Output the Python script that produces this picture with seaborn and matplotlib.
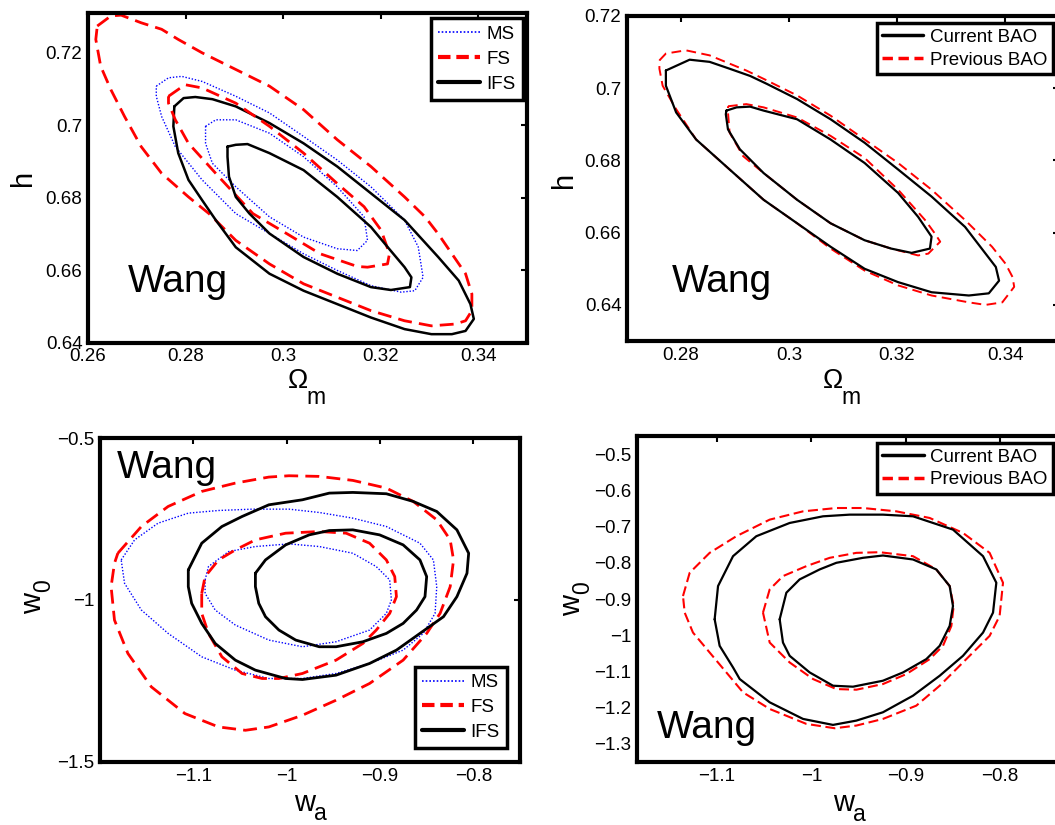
import matplotlib
matplotlib.use("Agg")
import matplotlib.pyplot as plt
from matplotlib.lines import Line2D
import pandas as pd
import seaborn as sns

# ---------------- data ----------------
# Panel A (top-left): Omega_m vs h, MS / FS / IFS contours
A_FS_OUT_X = [0.2619, 0.2647, 0.2668, 0.2709, 0.2751, 0.2785, 0.2834, 0.2903, 0.2972, 0.3042, 0.3111, 0.3180,
              0.3249, 0.3291, 0.3318, 0.3346, 0.3374, 0.3387, 0.3387, 0.3374, 0.3353, 0.3304, 0.3249, 0.3180,
              0.3111, 0.3042, 0.2972, 0.2903, 0.2848, 0.2806, 0.2751, 0.2709, 0.2675, 0.2647, 0.2626, 0.2616]
A_FS_OUT_Y = [0.7274, 0.7302, 0.7304, 0.7283, 0.7265, 0.7237, 0.7200, 0.7154, 0.7108, 0.7043, 0.6960, 0.6886,
              0.6802, 0.6747, 0.6700, 0.6645, 0.6590, 0.6534, 0.6488, 0.6460, 0.6451, 0.6446, 0.6460, 0.6488,
              0.6525, 0.6562, 0.6617, 0.6682, 0.6756, 0.6802, 0.6867, 0.6941, 0.7024, 0.7098, 0.7163, 0.7237]
A_FS_IN_X = [0.2765, 0.2799, 0.2834, 0.2903, 0.2972, 0.3042, 0.3111, 0.3166, 0.3201, 0.3218, 0.3214, 0.3173,
             0.3152, 0.3076, 0.3007, 0.2938, 0.2868, 0.2806, 0.2779, 0.2765]
A_FS_IN_Y = [0.7080, 0.7112, 0.7103, 0.7061, 0.6997, 0.6923, 0.6839, 0.6775, 0.6710, 0.6645, 0.6617, 0.6608,
             0.6610, 0.6645, 0.6701, 0.6756, 0.6858, 0.6950, 0.7015, 0.7061]
A_MS_OUT_X = [0.2740, 0.2765, 0.2792, 0.2834, 0.2903, 0.2972, 0.3042, 0.3111, 0.3180, 0.3249, 0.3277, 0.3287,
              0.3270, 0.3242, 0.3180, 0.3111, 0.3042, 0.2972, 0.2903, 0.2834, 0.2779, 0.2751, 0.2740]
A_MS_OUT_Y = [0.7108, 0.7131, 0.7135, 0.7121, 0.7080, 0.7034, 0.6969, 0.6904, 0.6830, 0.6738, 0.6664, 0.6580,
              0.6543, 0.6539, 0.6557, 0.6599, 0.6645, 0.6701, 0.6756, 0.6849, 0.6941, 0.7024, 0.7080]
A_MS_IN_X = [0.2841, 0.2862, 0.2903, 0.2972, 0.3042, 0.3111, 0.3166, 0.3173, 0.3152, 0.3111, 0.3042, 0.2972,
             0.2903, 0.2855, 0.2841]
A_MS_IN_Y = [0.6997, 0.7015, 0.7015, 0.6978, 0.6913, 0.6830, 0.6747, 0.6682, 0.6654, 0.6659, 0.6691, 0.6747,
             0.6830, 0.6895, 0.6950]
A_IFS_OUT_X = [0.2777, 0.2796, 0.2820, 0.2855, 0.2903, 0.2972, 0.3042, 0.3111, 0.3180, 0.3249, 0.3318, 0.3360,
               0.3384, 0.3391, 0.3374, 0.3346, 0.3304, 0.3249, 0.3180, 0.3111, 0.3042, 0.2972, 0.2903, 0.2862,
               0.2834, 0.2806, 0.2785, 0.2775]
A_IFS_OUT_Y = [0.7052, 0.7075, 0.7078, 0.7072, 0.7052, 0.7006, 0.6950, 0.6886, 0.6812, 0.6738, 0.6636, 0.6571,
               0.6506, 0.6465, 0.6432, 0.6423, 0.6423, 0.6437, 0.6469, 0.6506, 0.6543, 0.6590, 0.6663, 0.6738,
               0.6793, 0.6849, 0.6923, 0.6997]
A_IFS_IN_X = [0.2886, 0.2903, 0.2927, 0.2972, 0.3042, 0.3111, 0.3180, 0.3214, 0.3249, 0.3263, 0.3260, 0.3221,
              0.3180, 0.3111, 0.3042, 0.2972, 0.2931, 0.2903, 0.2889, 0.2886]
A_IFS_IN_Y = [0.6941, 0.6946, 0.6948, 0.6923, 0.6876, 0.6802, 0.6719, 0.6664, 0.6608, 0.6580, 0.6553, 0.6545,
              0.6553, 0.6590, 0.6636, 0.6701, 0.6756, 0.6802, 0.6858, 0.6913]

# Panel B (top-right): Omega_m vs h, current vs previous BAO
B_CUR_OUT_X = [0.2772, 0.2816, 0.2853, 0.2890, 0.2928, 0.2959, 0.3015, 0.3077, 0.3140, 0.3202, 0.3264, 0.3326,
               0.3364, 0.3383, 0.3389, 0.3370, 0.3333, 0.3264, 0.3202, 0.3140, 0.3077, 0.3015, 0.2953, 0.2890,
               0.2828, 0.2791, 0.2772]
B_CUR_OUT_Y = [0.7049, 0.7079, 0.7073, 0.7054, 0.7034, 0.7012, 0.6970, 0.6914, 0.6849, 0.6775, 0.6700, 0.6616,
               0.6542, 0.6505, 0.6467, 0.6432, 0.6426, 0.6435, 0.6463, 0.6500, 0.6561, 0.6626, 0.6691, 0.6775,
               0.6858, 0.6933, 0.7007]
B_PRE_OUT_X = [0.2760, 0.2772, 0.2809, 0.2853, 0.2921, 0.2953, 0.3015, 0.3077, 0.3140, 0.3202, 0.3264, 0.3326,
               0.3376, 0.3401, 0.3414, 0.3417, 0.3395, 0.3364, 0.3333, 0.3264, 0.3202, 0.3140, 0.3077, 0.3015,
               0.2953, 0.2890, 0.2828, 0.2791, 0.2766, 0.2760]
B_PRE_OUT_Y = [0.7077, 0.7096, 0.7105, 0.7091, 0.7049, 0.7026, 0.6980, 0.6924, 0.6858, 0.6793, 0.6719, 0.6635,
               0.6561, 0.6514, 0.6477, 0.6450, 0.6407, 0.6400, 0.6407, 0.6426, 0.6454, 0.6495, 0.6556, 0.6626,
               0.6691, 0.6775, 0.6858, 0.6942, 0.7007, 0.7054]
B_CUR_IN_X = [0.2884, 0.2903, 0.2928, 0.2953, 0.3015, 0.3077, 0.3140, 0.3202, 0.3239, 0.3264, 0.3261, 0.3227,
              0.3189, 0.3140, 0.3077, 0.3015, 0.2953, 0.2909, 0.2887, 0.2883]
B_CUR_IN_Y = [0.6938, 0.6947, 0.6949, 0.6938, 0.6914, 0.6858, 0.6793, 0.6710, 0.6644, 0.6589, 0.6556, 0.6544,
              0.6556, 0.6579, 0.6626, 0.6691, 0.6765, 0.6831, 0.6886, 0.6928]
B_PRE_IN_X = [0.2887, 0.2921, 0.2953, 0.3015, 0.3077, 0.3140, 0.3202, 0.3252, 0.3270, 0.3280, 0.3258, 0.3239,
              0.3189, 0.3140, 0.3077, 0.3015, 0.2953, 0.2915, 0.2890, 0.2887]
B_PRE_IN_Y = [0.6950, 0.6956, 0.6947, 0.6919, 0.6868, 0.6807, 0.6719, 0.6635, 0.6598, 0.6575, 0.6542, 0.6537,
              0.6556, 0.6579, 0.6626, 0.6691, 0.6765, 0.6812, 0.6877, 0.6933]

# Panel C (bottom-left): w_a vs w_0, MS / FS / IFS contours
C_FS_OUT_X = [-1.1809, -1.1557, -1.1270, -1.0910, -1.0550, -1.0191, -0.9975, -0.9651, -0.9291, -0.8932, -0.8644,
              -0.8392, -0.8248, -0.8212, -0.8248, -0.8356, -0.8500, -0.8752, -0.9112, -0.9471, -0.9831, -1.0191,
              -1.0442, -1.0730, -1.1090, -1.1450, -1.1701, -1.1845, -1.1881, -1.1845]
C_FS_OUT_Y = [-0.8557, -0.7732, -0.7113, -0.6649, -0.6392, -0.6206, -0.6165, -0.6185, -0.6309, -0.6546, -0.6958,
              -0.7526, -0.8144, -0.8763, -0.9588, -1.0412, -1.1031, -1.1856, -1.2577, -1.3093, -1.3557, -1.3918,
              -1.4021, -1.3918, -1.3505, -1.2681, -1.1650, -1.0619, -0.9588, -0.8866]
C_FS_IN_X = [-1.0910, -1.0874, -1.0730, -1.0550, -1.0335, -1.0011, -0.9651, -0.9363, -0.9112, -0.8932, -0.8842,
             -0.8824, -0.8896, -0.9040, -0.9183, -0.9471, -0.9831, -1.0083, -1.0263, -1.0478, -1.0694, -1.0838,
             -1.0910]
C_FS_IN_Y = [-0.9794, -0.9278, -0.8763, -0.8454, -0.8144, -0.7938, -0.7886, -0.7938, -0.8247, -0.8763, -0.9278,
             -0.9897, -1.0412, -1.0928, -1.1340, -1.1856, -1.2268, -1.2423, -1.2423, -1.2268, -1.1753, -1.1031,
             -1.0412]
C_MS_OUT_X = [-1.1773, -1.1629, -1.1378, -1.1054, -1.0730, -1.0370, -0.9975, -0.9651, -0.9291, -0.8932, -0.8572,
              -0.8428, -0.8392, -0.8410, -0.8536, -0.8752, -0.9112, -0.9471, -0.9831, -1.0191, -1.0550, -1.0910,
              -1.1270, -1.1557, -1.1737]
C_MS_OUT_Y = [-0.8763, -0.8144, -0.7629, -0.7319, -0.7237, -0.7196, -0.7196, -0.7299, -0.7474, -0.7732, -0.8247,
              -0.8763, -0.9588, -1.0412, -1.1031, -1.1547, -1.1959, -1.2268, -1.2423, -1.2423, -1.2165, -1.1753,
              -1.1031, -1.0309, -0.9485]
C_MS_IN_X = [-1.0874, -1.0838, -1.0622, -1.0335, -0.9975, -0.9651, -0.9291, -0.9040, -0.8896, -0.8878, -0.8932,
             -0.9112, -0.9471, -0.9831, -1.0191, -1.0550, -1.0766, -1.0874]
C_MS_IN_Y = [-0.9381, -0.8969, -0.8505, -0.8350, -0.8268, -0.8350, -0.8557, -0.8969, -0.9381, -1.0000, -1.0412,
             -1.0928, -1.1289, -1.1443, -1.1237, -1.0773, -1.0309, -0.9794]
C_IFS_OUT_X = [-1.1054, -1.0910, -1.0694, -1.0478, -1.0191, -0.9831, -0.9543, -0.9291, -0.8932, -0.8644, -0.8392,
               -0.8176, -0.8050, -0.8068, -0.8176, -0.8320, -0.8572, -0.8824, -0.9112, -0.9471, -0.9831, -1.0011,
               -1.0335, -1.0550, -1.0766, -1.0910, -1.1018, -1.1054]
C_IFS_OUT_Y = [-0.9072, -0.8247, -0.7732, -0.7423, -0.7062, -0.6907, -0.6701, -0.6680, -0.6721, -0.6958, -0.7268,
               -0.7835, -0.8557, -0.9175, -0.9897, -1.0516, -1.1031, -1.1547, -1.1959, -1.2320, -1.2454, -1.2423,
               -1.2165, -1.1856, -1.1340, -1.0722, -1.0103, -0.9588]
C_IFS_IN_X = [-1.0335, -1.0227, -1.0011, -0.9759, -0.9543, -0.9291, -0.9004, -0.8752, -0.8572, -0.8500, -0.8518,
              -0.8608, -0.8752, -0.8932, -0.9183, -0.9471, -0.9651, -0.9903, -1.0083, -1.0227, -1.0299, -1.0335]
C_IFS_IN_Y = [-0.9175, -0.8763, -0.8299, -0.7990, -0.7856, -0.7835, -0.7990, -0.8299, -0.8763, -0.9278, -0.9897,
              -1.0309, -1.0722, -1.1031, -1.1289, -1.1443, -1.1443, -1.1237, -1.0928, -1.0516, -1.0103, -0.9588]

# Panel D (bottom-right): w_a vs w_0, current vs previous BAO
D_CUR_OUT_X = [-1.1026, -1.0990, -1.0831, -1.0584, -1.0230, -0.9876, -0.9593, -0.9240, -0.8921, -0.8497, -0.8178,
               -0.8037, -0.8072, -0.8178, -0.8391, -0.8638, -0.8921, -0.9240, -0.9522, -0.9770, -1.0088, -1.0442,
               -1.0760, -1.0831, -1.0973]
D_CUR_OUT_Y = [-0.9560, -0.8643, -0.7818, -0.7267, -0.6901, -0.6717, -0.6671, -0.6671, -0.6717, -0.7084, -0.7818,
               -0.8551, -0.9376, -0.9927, -1.0569, -1.1119, -1.1669, -1.2127, -1.2357, -1.2476, -1.2311, -1.1852,
               -1.1210, -1.0889, -1.0293]
D_PRE_OUT_X = [-1.1362, -1.1291, -1.1079, -1.0796, -1.0442, -1.0088, -0.9735, -0.9452, -0.9098, -0.8744, -0.8391,
               -0.8108, -0.7966, -0.8002, -0.8108, -0.8391, -0.8638, -0.8886, -0.9240, -0.9522, -0.9752, -1.0053,
               -1.0442, -1.0725, -1.0902, -1.1079, -1.1256, -1.1344]
D_PRE_OUT_Y = [-0.8918, -0.8276, -0.7726, -0.7267, -0.6809, -0.6580, -0.6488, -0.6488, -0.6580, -0.6763, -0.7176,
               -0.7726, -0.8551, -0.9468, -1.0018, -1.0752, -1.1394, -1.1944, -1.2311, -1.2494, -1.2568, -1.2448,
               -1.2036, -1.1577, -1.1027, -1.0477, -0.9927, -0.9376]
D_CUR_IN_X = [-1.0336, -1.0265, -1.0124, -0.9912, -0.9735, -0.9452, -0.9240, -0.8921, -0.8674, -0.8532, -0.8497,
              -0.8532, -0.8638, -0.8780, -0.9027, -0.9240, -0.9558, -0.9770, -1.0018, -1.0230, -1.0301]
D_CUR_IN_Y = [-0.9560, -0.8826, -0.8459, -0.8184, -0.8001, -0.7863, -0.7799, -0.7909, -0.8184, -0.8643, -0.9193,
              -0.9743, -1.0293, -1.0660, -1.1027, -1.1256, -1.1421, -1.1394, -1.1027, -1.0569, -1.0202]
D_PRE_IN_X = [-1.0513, -1.0442, -1.0301, -1.0053, -0.9805, -0.9522, -0.9275, -0.8921, -0.8674, -0.8532, -0.8490,
              -0.8514, -0.8603, -0.8744, -0.8992, -0.9240, -0.9522, -0.9735, -0.9982, -1.0230, -1.0442]
D_PRE_IN_Y = [-0.9376, -0.8735, -0.8368, -0.8093, -0.7863, -0.7726, -0.7708, -0.7818, -0.8184, -0.8643, -0.9193,
              -0.9743, -1.0293, -1.0660, -1.1073, -1.1348, -1.1504, -1.1486, -1.1210, -1.0752, -1.0202]

# Ticks and labels
OM_TICKS_A = [0.26, 0.28, 0.30, 0.32, 0.34]
OM_LABELS_A = ["0.26", "0.28", "0.3", "0.32", "0.34"]
OM_TICKS_B = [0.28, 0.30, 0.32, 0.34]
OM_LABELS_B = ["0.28", "0.3", "0.32", "0.34"]
H_TICKS = [0.64, 0.66, 0.68, 0.70, 0.72]
H_LABELS = ["0.64", "0.66", "0.68", "0.7", "0.72"]
WA_TICKS = [-1.1, -1.0, -0.9, -0.8]
WA_LABELS = ["\u22121.1", "\u22121", "\u22120.9", "\u22120.8"]
W0_TICKS_C = [-1.5, -1.0, -0.5]
W0_LABELS_C = ["\u22121.5", "\u22121", "\u22120.5"]
W0_TICKS_D = [-1.3, -1.2, -1.1, -1.0, -0.9, -0.8, -0.7, -0.6, -0.5]
W0_LABELS_D = ["\u22121.3", "\u22121.2", "\u22121.1", "\u22121", "\u22120.9", "\u22120.8", "\u22120.7",
               "\u22120.6", "\u22120.5"]
LEG_SURVEY = ["MS", "FS", "IFS"]
LEG_BAO = ["Current BAO", "Previous BAO"]
TAG = "Wang"
OM_MAIN, OM_SUB = "\u03a9", "m"
H_LABEL = "h"
W_MAIN, WA_SUB, W0_SUB = "w", "a", "0"

# ---------------- style ----------------
sns.set_style("white")
plt.rcParams["font.family"] = ["Liberation Sans", "DejaVu Sans"]
for key in ["text.color", "axes.labelcolor", "xtick.color", "ytick.color", "axes.edgecolor"]:
    plt.rcParams[key] = "black"

W, H = 1055, 825
fig = plt.figure(figsize=(W / 100, H / 100), dpi=100)
fig.patch.set_facecolor("white")


def add_axes(left, right, top, bottom):
    return fig.add_axes([left / W, 1 - bottom / H, (right - left) / W, (bottom - top) / H])


def draw(ax, xs, ys, **kw):
    df = pd.DataFrame({"x": list(xs) + [xs[0]], "y": list(ys) + [ys[0]]})
    sns.lineplot(data=df, x="x", y="y", sort=False, estimator=None, ax=ax, **kw)


def style_axes(ax, xlim, ylim, xt, xl, yt, yl):
    ax.set_xlim(*xlim)
    ax.set_ylim(*ylim)
    ax.set_xticks(xt)
    ax.set_xticklabels(xl)
    ax.set_yticks(yt)
    ax.set_yticklabels(yl)
    ax.tick_params(direction="in", length=4, width=1.5, top=True, right=True,
                   labelsize=13.5, pad=4, color="black", labelcolor="black")
    for s in ax.spines.values():
        s.set_linewidth(3)
        s.set_color("black")
        s.set_visible(True)
    ax.set_facecolor("white")


RED = "#ff0000"
BLUE = "#0000ff"

# ---------------- panel A ----------------
axA = add_axes(88, 527, 13, 342.5)
ms_kw = dict(color=BLUE, lw=1.0, linestyle=(0, (1, 1.3)))
fsA_kw = dict(color=RED, lw=2.0, linestyle=(0, (5.0, 2.6)))
ifsA_kw = dict(color="black", lw=1.8, linestyle="-")
draw(axA, A_FS_OUT_X, A_FS_OUT_Y, **fsA_kw)
draw(axA, A_MS_OUT_X, A_MS_OUT_Y, **ms_kw)
draw(axA, A_IFS_OUT_X, A_IFS_OUT_Y, **ifsA_kw)
draw(axA, A_MS_IN_X, A_MS_IN_Y, **ms_kw)
draw(axA, A_FS_IN_X, A_FS_IN_Y, **fsA_kw)
draw(axA, A_IFS_IN_X, A_IFS_IN_Y, **ifsA_kw)
style_axes(axA, (0.26, 0.35), (0.64, 0.731), OM_TICKS_A, OM_LABELS_A, H_TICKS, H_LABELS)

# ---------------- panel B ----------------
axB = add_axes(627, 1059, 16, 341)
curB_kw = dict(color="black", lw=1.6, linestyle="-")
preB_kw = dict(color=RED, lw=1.4, linestyle=(0, (5.0, 2.8)))
draw(axB, B_PRE_OUT_X, B_PRE_OUT_Y, **preB_kw)
draw(axB, B_PRE_IN_X, B_PRE_IN_Y, **preB_kw)
draw(axB, B_CUR_OUT_X, B_CUR_OUT_Y, **curB_kw)
draw(axB, B_CUR_IN_X, B_CUR_IN_Y, **curB_kw)
style_axes(axB, (0.27, 0.35), (0.63, 0.72), OM_TICKS_B, OM_LABELS_B, H_TICKS, H_LABELS)

# ---------------- panel C ----------------
axC = add_axes(100, 520, 438, 762)
fsC_kw = dict(color=RED, lw=2.0, linestyle=(0, (5.0, 2.6)))
ifsC_kw = dict(color="black", lw=2.0, linestyle="-")
draw(axC, C_FS_OUT_X, C_FS_OUT_Y, **fsC_kw)
draw(axC, C_MS_OUT_X, C_MS_OUT_Y, **ms_kw)
draw(axC, C_MS_IN_X, C_MS_IN_Y, **ms_kw)
draw(axC, C_FS_IN_X, C_FS_IN_Y, **fsC_kw)
draw(axC, C_IFS_OUT_X, C_IFS_OUT_Y, **ifsC_kw)
draw(axC, C_IFS_IN_X, C_IFS_IN_Y, **ifsC_kw)
style_axes(axC, (-1.2, -0.75), (-1.5, -0.5), WA_TICKS, WA_LABELS, W0_TICKS_C, W0_LABELS_C)

# ---------------- panel D ----------------
axD = add_axes(637, 1062, 436, 762)
curD_kw = dict(color="black", lw=1.6, linestyle="-")
preD_kw = dict(color=RED, lw=1.5, linestyle=(0, (4.8, 2.2)))
draw(axD, D_PRE_OUT_X, D_PRE_OUT_Y, **preD_kw)
draw(axD, D_PRE_IN_X, D_PRE_IN_Y, **preD_kw)
draw(axD, D_CUR_OUT_X, D_CUR_OUT_Y, **curD_kw)
draw(axD, D_CUR_IN_X, D_CUR_IN_Y, **curD_kw)
style_axes(axD, (-1.185, -0.734), (-1.35, -0.45), WA_TICKS, WA_LABELS, W0_TICKS_D, W0_LABELS_D)


# ---------------- axis labels (main letter + large, deep subscript) ----------------
def xlabel_sub(ax, main, sub, pos, fs_main, fs_sub, dx, dy):
    ax.set_xlabel(main, fontsize=fs_main)
    ax.xaxis.set_label_coords(*pos)
    ax.annotate(sub, xy=(1, 0), xycoords=ax.xaxis.label, xytext=(dx, dy),
                textcoords="offset points", fontsize=fs_sub, ha="left", va="baseline",
                annotation_clip=False)


def ylabel_sub(ax, main, sub, pos, fs_main, fs_sub, dx, dy):
    ax.set_ylabel(main, fontsize=fs_main)
    ax.yaxis.set_label_coords(*pos)
    if sub:
        ax.annotate(sub, xy=(1, 1), xycoords=ax.yaxis.label, xytext=(dx, dy),
                    textcoords="offset points", fontsize=fs_sub, rotation=90,
                    ha="right", va="bottom", annotation_clip=False)


xlabel_sub(axA, OM_MAIN, OM_SUB, (0.478, -0.077), 19.5, 16.5, -1.0, -7.4)
xlabel_sub(axB, OM_MAIN, OM_SUB, (0.476, -0.083), 19.5, 16.5, -1.0, -7.4)
xlabel_sub(axC, W_MAIN, WA_SUB, (0.486, -0.083), 21, 16.5, -0.5, -2.5)
xlabel_sub(axD, W_MAIN, WA_SUB, (0.486, -0.083), 21, 16.5, -0.5, -2.5)
ylabel_sub(axA, H_LABEL, None, (-0.116, 0.5), 21, 0, 0, 0)
ylabel_sub(axB, H_LABEL, None, (-0.113, 0.495), 21, 0, 0, 0)
ylabel_sub(axC, W_MAIN, W0_SUB, (-0.127, 0.49), 21, 16.5, 6.0, 0.5)
ylabel_sub(axD, W_MAIN, W0_SUB, (-0.12, 0.48), 21, 16.5, 6.0, 0.5)

for ax, pos in [(axA, (0.091, 0.152)), (axB, (0.104, 0.151)), (axC, (0.04, 0.878)), (axD, (0.046, 0.074))]:
    ax.text(pos[0], pos[1], TAG, transform=ax.transAxes, fontsize=28, ha="left", va="baseline",
            color="black")

# ---------------- legends ----------------
survey_handles = [
    Line2D([], [], color=BLUE, lw=1.2, linestyle=(0, (1, 1.2))),
    Line2D([], [], color=RED, lw=3.0, linestyle=(0, (3.0, 1.4))),
    Line2D([], [], color="black", lw=3.0),
]
bao_handles = [
    Line2D([], [], color="black", lw=2.5),
    Line2D([], [], color=RED, lw=2.5, linestyle=(0, (3.0, 1.6))),
]
leg_kw = dict(fontsize=13.5, frameon=True, fancybox=False, framealpha=1.0, edgecolor="black",
              handlelength=2.2, handletextpad=0.35, borderaxespad=0.0)

for ax, handles, labels, loc, anchor, ls, bp in [
    (axA, survey_handles, LEG_SURVEY, "upper right", (0.991, 0.985), 0.42, 0.4),
    (axB, bao_handles, LEG_BAO, "upper right", (0.986, 0.978), 0.3, 0.3),
    (axC, survey_handles, LEG_SURVEY, "lower right", (0.969, 0.043), 0.4, 0.4),
    (axD, bao_handles, LEG_BAO, "upper right", (0.979, 0.979), 0.3, 0.3),
]:
    leg = ax.legend(handles, labels, loc=loc, bbox_to_anchor=anchor, labelspacing=ls,
                    borderpad=bp, **leg_kw)
    leg.get_frame().set_linewidth(2.5)
    leg.get_frame().set_facecolor("white")
    for t in leg.get_texts():
        t.set_color("black")

fig.savefig("out.png", dpi=100, facecolor="white")
